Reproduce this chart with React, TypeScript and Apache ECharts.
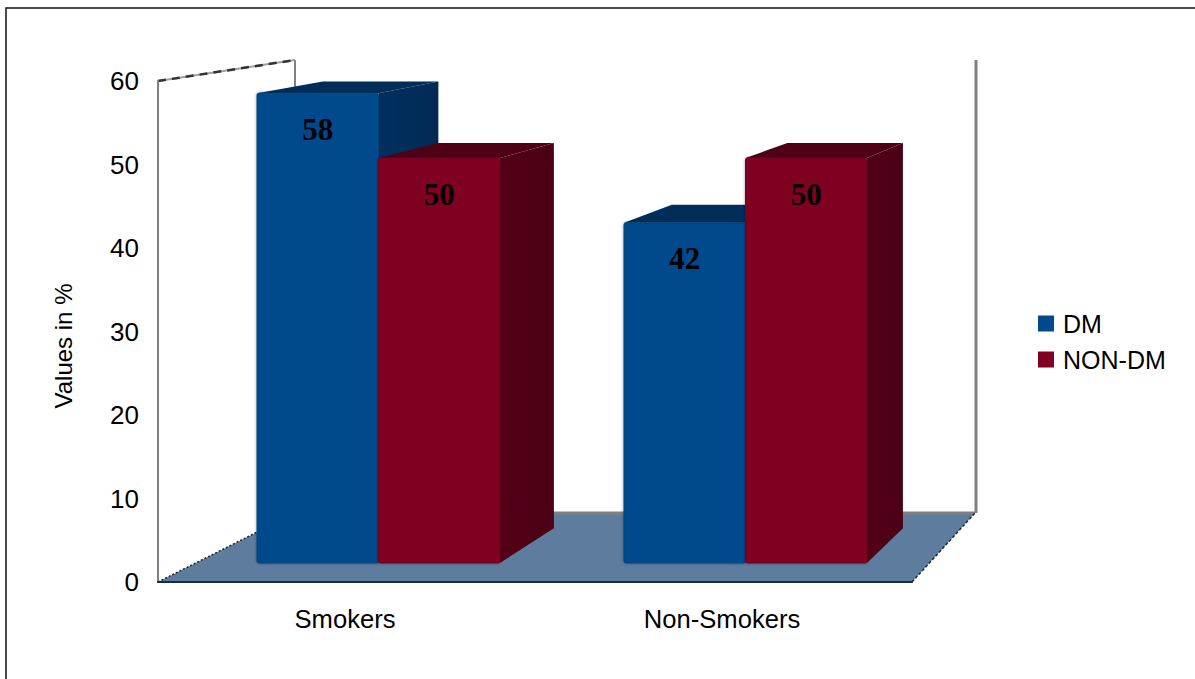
import React, { useEffect, useRef } from "react";
import * as echarts from "echarts";

const categories = ["Smokers", "Non-Smokers"];
const dmValues = [58, 42];
const nonDmValues = [50, 50];

const seriesPalette = {
  dm: { front: "#004a8c", edge: "#00427e", top: "#002d5a", sideA: "#003060", sideB: "#002a54" },
  nonDm: { front: "#800024", edge: "#720020", top: "#4f0016", sideA: "#530017", sideB: "#4b0015" },
};

const WIDTH = 1195;
const HEIGHT = 679;
const BAR_RATIO = 121.5 / 367;
// Depth of the extruded bars: every corner moves a fixed share toward one vanishing point.
const VANISH = { x: 1600, y: -147, share: 0.049 };
const LABEL_DROP = 36;

const toBack = (x: number, y: number) => [
  x + VANISH.share * (VANISH.x - x),
  y + VANISH.share * (VANISH.y - y),
];

const barRenderer = (colors: typeof seriesPalette.dm, side: -1 | 1) => (params: any, api: any) => {
  const cat = api.value(0);
  const val = api.value(1);
  const [cx, topY] = api.coord([cat, val]);
  const [, baseY] = api.coord([cat, 0]);
  const w = api.size([1, 0])[0] * BAR_RATIO;
  const x0 = side < 0 ? cx - w : cx;
  const x1 = x0 + w;
  return {
    type: "group",
    children: [
      {
        type: "polygon",
        shape: { points: [[x1, topY], toBack(x1, topY), toBack(x1, baseY), [x1, baseY]] },
        style: {
          fill: new echarts.graphic.LinearGradient(0, 0, 1, 0, [
            { offset: 0, color: colors.sideA },
            { offset: 1, color: colors.sideB },
          ]),
        },
      },
      {
        type: "polygon",
        shape: { points: [[x0, topY], [x1, topY], toBack(x1, topY), toBack(x0, topY)] },
        style: { fill: colors.top },
      },
      {
        type: "rect",
        shape: { x: x0, y: topY, width: w, height: baseY - topY, r: 2 },
        style: {
          fill: colors.front,
          stroke: colors.edge,
          lineWidth: 1,
          shadowColor: "rgba(0,0,0,0.4)",
          shadowBlur: 3,
        },
      },
      {
        type: "text",
        style: {
          text: String(val),
          x: (x0 + x1) / 2,
          y: topY + LABEL_DROP,
          align: "center",
          verticalAlign: "middle",
          fill: "#000000",
          font: 'bold 31px "Liberation Serif"',
        },
      },
    ],
  };
};

export default function App() {
  const ref = useRef<HTMLDivElement>(null);

  useEffect(() => {
    const chart = echarts.init(ref.current!, null, { renderer: "svg" });
    const sans = "Liberation Sans";
    chart.setOption({
      animation: false,
      backgroundColor: "#ffffff",
      grid: [
        { left: 158, top: 81, width: 754, height: 501 },
        { left: 195, top: 77, width: 734, height: 486 },
      ],
      xAxis: [
        {
          type: "category",
          data: categories,
          gridIndex: 0,
          axisLine: { lineStyle: { color: "#1c2b3c", width: 2 } },
          axisTick: { show: false },
          axisLabel: {
            fontFamily: sans,
            fontSize: 25.6,
            color: "#000000",
            margin: 24,
            padding: [0, 3, 0, 0],
          },
        },
        { type: "category", data: categories, gridIndex: 1, show: false },
      ],
      yAxis: [
        {
          type: "value",
          gridIndex: 0,
          min: 0,
          max: 60,
          interval: 10,
          axisLine: { show: true, lineStyle: { color: "#808080", width: 2 } },
          axisTick: { show: false },
          splitLine: { show: false },
          axisLabel: {
            fontFamily: sans,
            fontSize: 26,
            color: "#000000",
            margin: 19,
            padding: [5, 0, 0, 0],
          },
        },
        { type: "value", gridIndex: 1, min: 0, max: 60, show: false },
      ],
      legend: {
        orient: "vertical",
        left: 1033,
        top: 306,
        itemWidth: 16,
        itemHeight: 16,
        itemGap: 11,
        icon: "rect",
        selectedMode: false,
        data: ["DM", "NON-DM"],
        textStyle: { fontFamily: sans, fontSize: 25, color: "#000000", padding: [0, 0, 0, 4] },
      },
      graphic: [
        // Sheet border
        {
          type: "polyline",
          z: 0,
          shape: { points: [[6, HEIGHT], [6, 8], [WIDTH, 8]] },
          style: { fill: "none", stroke: "#111111", lineWidth: 1.5 },
        },
        // Floor of the box
        {
          type: "polygon",
          z: 0,
          shape: { points: [[158, 582], [912, 582], [975, 513], [295, 513]] },
          style: { fill: "#5e7d9e" },
        },
        { type: "line", z: 0, shape: { x1: 295, y1: 513, x2: 975, y2: 513 }, style: { stroke: "#808080", lineWidth: 3 } },
        { type: "line", z: 0, shape: { x1: 976, y1: 60, x2: 976, y2: 513 }, style: { stroke: "#808080", lineWidth: 3 } },
        { type: "line", z: 0, shape: { x1: 295, y1: 60, x2: 295, y2: 513 }, style: { stroke: "#808080", lineWidth: 2 } },
        { type: "line", z: 0, shape: { x1: 158, y1: 81, x2: 295, y2: 60 }, style: { stroke: "#a0a0a0", lineWidth: 2 } },
        { type: "line", z: 0, shape: { x1: 158, y1: 81, x2: 295, y2: 60 }, style: { stroke: "#333333", lineWidth: 2.5, lineDash: [8, 6] } },
        { type: "line", z: 0, shape: { x1: 158, y1: 582, x2: 295, y2: 513 }, style: { stroke: "#222222", lineWidth: 1.5, lineDash: [2, 2] } },
        { type: "line", z: 0, shape: { x1: 912, y1: 582, x2: 975, y2: 513 }, style: { stroke: "#1c2b3c", lineWidth: 1.5, lineDash: [3, 2] } },
        {
          type: "text",
          z: 5,
          x: 63,
          y: 346,
          rotation: Math.PI / 2,
          style: {
            text: "Values in %",
            align: "center",
            verticalAlign: "middle",
            fill: "#000000",
            font: '24px "Liberation Sans"',
          },
        },
      ],
      series: [
        {
          name: "DM",
          type: "custom",
          xAxisIndex: 1,
          yAxisIndex: 1,
          itemStyle: { color: seriesPalette.dm.front },
          encode: { x: 0, y: 1 },
          data: dmValues.map((v, i) => [i, v]),
          renderItem: barRenderer(seriesPalette.dm, -1),
        },
        {
          name: "NON-DM",
          type: "custom",
          xAxisIndex: 1,
          yAxisIndex: 1,
          itemStyle: { color: seriesPalette.nonDm.front },
          encode: { x: 0, y: 1 },
          data: nonDmValues.map((v, i) => [i, v]),
          renderItem: barRenderer(seriesPalette.nonDm, 1),
        },
      ],
    });
    return () => chart.dispose();
  }, []);

  return (
    <div
      ref={ref}
      style={{ position: "absolute", left: 0, top: 0, width: WIDTH, height: HEIGHT }}
    />
  );
}
